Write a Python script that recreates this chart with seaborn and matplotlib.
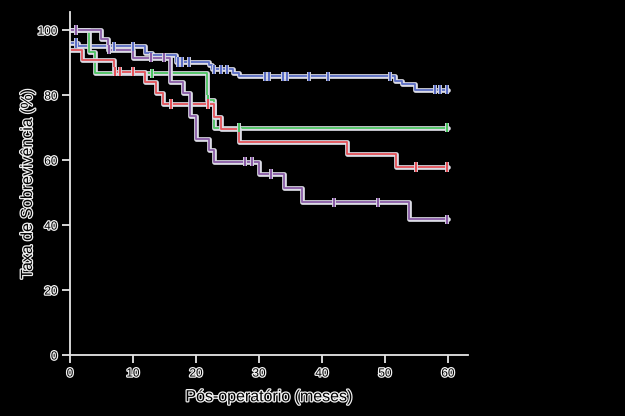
import numpy as np
import pandas as pd
import matplotlib
matplotlib.use("Agg")
import matplotlib.pyplot as plt
import matplotlib.patheffects as pe
import seaborn as sns

# ---- data ----
blue_t = [0, 1.2, 11.9, 13.0, 16.9, 22.0, 22.6, 25.8, 26.9, 51.6, 52.7, 54.8]
blue_s = [96, 95, 93, 92.3, 90.2, 89.4, 87.9, 86.9, 85.8, 84.4, 83.4, 81.7]
blue_c = [1.0, 7.0, 10.0, 17.1, 17.7, 18.9, 22.9, 24.0, 25.0, 30.9, 31.6, 33.8,
          34.5, 38.0, 40.9, 50.8, 58.0, 58.8, 59.8]

green_t = [0, 3.0, 4.0, 21.7, 22.9]
green_s = [100, 93.3, 86.7, 78.5, 70]
green_c = [13.0, 21.9, 26.9, 59.9]

red_t = [0, 1.85, 7.0, 11.9, 13.7, 14.8, 22.9, 24.0, 26.9, 43.9, 51.8]
red_s = [93.8, 90.8, 87.2, 84.1, 80.5, 77.3, 73.2, 69.6, 65.5, 62, 57.9]
red_c = [7.2, 8.0, 10.0, 16.1, 21.9, 54.9, 59.8]

purple_t = [0, 5.0, 6.0, 10.0, 15.8, 17.9, 19.0, 20.0, 22.0, 22.9, 30.0, 34.0, 36.9, 53.8]
purple_s = [100, 97.2, 94, 91.5, 84.1, 80.5, 73.5, 66.4, 63, 59.5, 55.7, 51.3, 47, 41.8]
purple_c = [1.0, 6.2, 12.9, 15.0, 27.8, 28.9, 31.9, 41.9, 48.9, 59.9]

end_time = 60
x_ticks = [0, 10, 20, 30, 40, 50, 60]
y_ticks = [0, 20, 40, 60, 80, 100]
x_label = "Pós-operatório (meses)"
y_label = "Taxa de Sobrevivência (%)"

groups = {
    "blue": (blue_t, blue_s, blue_c),
    "green": (green_t, green_s, green_c),
    "red": (red_t, red_s, red_c),
    "purple": (purple_t, purple_s, purple_c),
}
palette = {"blue": "#5b6ec4", "green": "#4cc462", "red": "#e4535a", "purple": "#8a5ca6"}

# Build tables
line_rows, cens_rows = [], []
for g, (t, s, c) in groups.items():
    tt = list(t) + [end_time]
    ss = list(s) + [s[-1]]
    for a, b in zip(tt, ss):
        line_rows.append({"g": g, "t": a, "s": b})
    t_arr = np.array(t)
    s_arr = np.array(s)
    for ct in c:
        idx = np.searchsorted(t_arr, ct, side="right") - 1
        cens_rows.append({"g": g, "t": ct, "s": s_arr[idx]})
lines_df = pd.DataFrame(line_rows)
cens_df = pd.DataFrame(cens_rows)

sns.set_theme(style="white")
plt.rcParams["font.family"] = ["Liberation Sans", "DejaVu Sans"]

fig = plt.figure(figsize=(6.25, 4.16), dpi=100, facecolor="black")
ax = fig.add_axes([0.112, 0.1466, 0.637, 0.824])
ax.set_facecolor("black")

line_pe = [pe.Stroke(linewidth=3.4, foreground="#dcdce6"), pe.Normal()]
for g in ["blue", "green", "red", "purple"]:
    sub = lines_df[lines_df.g == g]
    sns.lineplot(data=sub, x="t", y="s", color=palette[g], drawstyle="steps-post",
                 estimator=None, sort=False, lw=1.3, ax=ax, path_effects=line_pe,
                 legend=False)
    csub = cens_df[cens_df.g == g]
    sns.scatterplot(data=csub, x="t", y="s", color=palette[g], marker="|", s=45,
                    linewidth=1.5, ax=ax, legend=False, zorder=5,
                    path_effects=[pe.Stroke(linewidth=2.8, foreground="#dcdce6"), pe.Normal()])

ax.set_xlim(0, 63.2)
ax.set_ylim(0, 105.5)
ax.set_xticks(x_ticks)
ax.set_yticks(y_ticks)

for side in ["top", "right"]:
    ax.spines[side].set_visible(False)
for side in ["left", "bottom"]:
    ax.spines[side].set_color("#e6e6e6")
    ax.spines[side].set_linewidth(1.3)
ax.tick_params(axis="both", colors="#e6e6e6", direction="out", length=6, width=1.3,
               labelsize=8.5, pad=3, left=True, bottom=True)

text_pe = [pe.withStroke(linewidth=1.8, foreground="#f0f0f0")]
for lab in ax.get_xticklabels() + ax.get_yticklabels():
    lab.set_color("black")
    lab.set_path_effects(text_pe)

ax.set_xlabel(x_label, fontsize=11.5, color="black", labelpad=7,
              path_effects=text_pe)
ax.set_ylabel(y_label, fontsize=11.5, color="black", labelpad=2,
              path_effects=text_pe)
ax.grid(False)

fig.savefig("out.png", dpi=100, facecolor="black")
